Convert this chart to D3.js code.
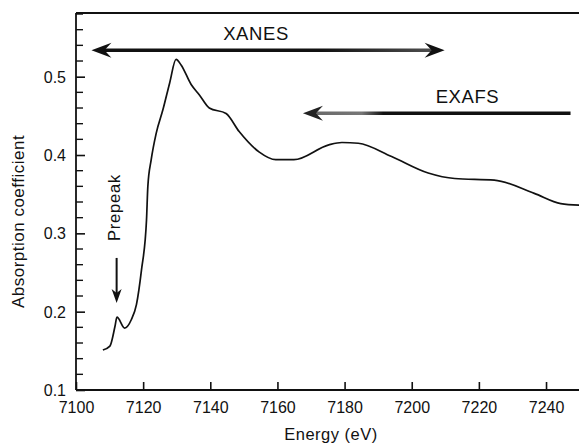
<!DOCTYPE html>
<html>
<head>
<meta charset="utf-8">
<script src="https://cdn.jsdelivr.net/npm/d3@7"></script>
<style>
  body { margin: 0; background: #fff; }
  text { font-family: "Liberation Sans", Arial, sans-serif; fill: #111; }
</style>
</head>
<body>
<svg width="579" height="445"></svg>
<script>
// absorption spectrum
var energy = [7108, 7110.1, 7111.6, 7112.2, 7114.5, 7116.5, 7118, 7119.5, 7121, 7121.4,
    7122.4, 7123.9, 7125.9, 7127.9, 7129.8, 7131.3, 7134.3, 7136.7, 7139.7, 7144.7,
    7148.6, 7154.5, 7159.5, 7164.9, 7175.3, 7179.2, 7184.1, 7194, 7204.9, 7212.8,
    7224.6, 7236.5, 7244.4, 7250];
var absorption = [0.151, 0.156, 0.181, 0.193, 0.179, 0.19, 0.209, 0.253, 0.317, 0.36,
    0.394, 0.428, 0.458, 0.492, 0.522, 0.515, 0.49, 0.477, 0.46, 0.453,
    0.43, 0.404, 0.394, 0.394, 0.413, 0.416, 0.415, 0.398, 0.377, 0.37,
    0.368, 0.351, 0.338, 0.336];

var xTicks = [7100, 7120, 7140, 7160, 7180, 7200, 7220, 7240];
var yTicks = [0.1, 0.2, 0.3, 0.4, 0.5];
var yMinor = [0.12, 0.14, 0.16, 0.18, 0.22, 0.24, 0.26, 0.28, 0.32, 0.34, 0.36, 0.38,
    0.42, 0.44, 0.46, 0.48, 0.52, 0.54, 0.56, 0.58];

// region arrows: [from energy, to energy, level]
var xanes = [7104.6, 7209.8, 0.5336];
var exafs = [7247.3, 7167.6, 0.4534];
var prepeak = [7112.1, 0.2686, 0.211];

var svg = d3.select("svg");

var x = d3.scaleLinear().domain([7100, 7250]).range([76, 579.6]);
var y = d3.scaleLinear().domain([0.1, 0.5813]).range([390, 13]);

var defs = svg.append("defs");
var g1 = defs.append("linearGradient").attr("id", "gx")
    .attr("gradientUnits", "userSpaceOnUse")
    .attr("x1", x(xanes[0])).attr("x2", x(xanes[1])).attr("y1", 0).attr("y2", 0);
g1.append("stop").attr("offset", "0.65").attr("stop-color", "#111");
g1.append("stop").attr("offset", "1").attr("stop-color", "#555");
var g2 = defs.append("linearGradient").attr("id", "ge")
    .attr("gradientUnits", "userSpaceOnUse")
    .attr("x1", x(exafs[1])).attr("x2", x(exafs[0])).attr("y1", 0).attr("y2", 0);
g2.append("stop").attr("offset", "0").attr("stop-color", "#666");
g2.append("stop").attr("offset", "0.22").attr("stop-color", "#777");
g2.append("stop").attr("offset", "0.3").attr("stop-color", "#111");

// frame
svg.append("line").attr("x1", x(7100)).attr("x2", 579).attr("y1", y(0.5813)).attr("y2", y(0.5813))
    .attr("stroke", "#111").attr("stroke-width", 1.8);

var xAxis = svg.append("g").attr("transform", "translate(0," + y(0.1) + ")")
    .call(d3.axisBottom(x).tickValues(xTicks).tickSize(-8).tickPadding(11).tickFormat(d3.format("d")));
xAxis.select(".domain").attr("d", "M" + x(7100) + ",0H579").attr("stroke-width", 1.8);
xAxis.selectAll(".tick line").attr("stroke-width", 1.6);
xAxis.selectAll("text").attr("font-size", 16).attr("dy", "0.75em");

var yAxis = svg.append("g").attr("transform", "translate(" + x(7100) + ",0)")
    .call(d3.axisLeft(y).tickValues(yTicks).tickSize(-9).tickPadding(10).tickFormat(d3.format(".1f")));
yAxis.select(".domain").attr("d", "M0," + y(0.5813) + "V" + y(0.1)).attr("stroke-width", 1.8);
yAxis.selectAll(".tick line").attr("stroke-width", 1.6);
yAxis.selectAll("text").attr("font-size", 16).attr("dy", "0.35em");

yAxis.selectAll(".minor").data(yMinor).enter().append("line")
    .attr("class", "minor")
    .attr("x1", 0).attr("x2", 7)
    .attr("y1", function(d) { return y(d); }).attr("y2", function(d) { return y(d); })
    .attr("stroke", "#111").attr("stroke-width", 1.4);

svg.selectAll(".domain, .tick line").attr("stroke", "#111");

// spectrum
var line = d3.line()
    .x(function(d, i) { return x(energy[i]); })
    .y(function(d) { return y(d); })
    .curve(d3.curveMonotoneX);

svg.append("path")
    .datum(absorption)
    .attr("d", line)
    .attr("fill", "none")
    .attr("stroke", "#111")
    .attr("stroke-width", 1.7)
    .attr("stroke-linejoin", "round");

// barbed arrow head pointing along +x at origin
function head(sel, tx, ty, angle, fill) {
    sel.append("path")
        .attr("d", "M0,0L-20,-7.5L-13,0L-20,7.5Z")
        .attr("transform", "translate(" + tx + "," + ty + ") rotate(" + angle + ")")
        .attr("fill", fill);
}

// XANES double arrow
svg.append("line")
    .attr("x1", x(xanes[0]) + 10).attr("x2", x(xanes[1]) - 10)
    .attr("y1", y(xanes[2])).attr("y2", y(xanes[2]))
    .attr("stroke", "url(#gx)").attr("stroke-width", 3.5);
head(svg, x(xanes[0]), y(xanes[2]), 180, "#111");
head(svg, x(xanes[1]), y(xanes[2]), 0, "#111");

// EXAFS arrow
svg.append("line")
    .attr("x1", x(exafs[0])).attr("x2", x(exafs[1]) + 10)
    .attr("y1", y(exafs[2])).attr("y2", y(exafs[2]))
    .attr("stroke", "url(#ge)").attr("stroke-width", 3.5);
head(svg, x(exafs[1]), y(exafs[2]), 180, "#222");

// Prepeak arrow
svg.append("line")
    .attr("x1", x(prepeak[0])).attr("x2", x(prepeak[0]))
    .attr("y1", y(prepeak[1])).attr("y2", y(prepeak[2]) - 8)
    .attr("stroke", "#111").attr("stroke-width", 2);
svg.append("path")
    .attr("d", "M0,0L-14,-5L-10,0L-14,5Z")
    .attr("transform", "translate(" + x(prepeak[0]) + "," + y(prepeak[2]) + ") rotate(90)")
    .attr("fill", "#111");

// labels
svg.append("text").attr("x", 256).attr("y", 40).attr("text-anchor", "middle")
    .attr("font-size", 18.5).attr("letter-spacing", 0.6).text("XANES");
svg.append("text").attr("x", 467.5).attr("y", 103).attr("text-anchor", "middle")
    .attr("font-size", 18.5).attr("letter-spacing", 0.6).text("EXAFS");
svg.append("text")
    .attr("transform", "translate(120,207.5) rotate(-90)")
    .attr("text-anchor", "middle").attr("font-size", 16.5).attr("letter-spacing", 0.8)
    .text("Prepeak");
svg.append("text")
    .attr("transform", "translate(24,221.5) rotate(-90)")
    .attr("text-anchor", "middle").attr("font-size", 17).attr("letter-spacing", 0.5)
    .text("Absorption coefficient");
svg.append("text").attr("x", 331).attr("y", 440).attr("text-anchor", "middle")
    .attr("font-size", 16.5).attr("letter-spacing", 0.5).text("Energy (eV)");
</script>
</body>
</html>
